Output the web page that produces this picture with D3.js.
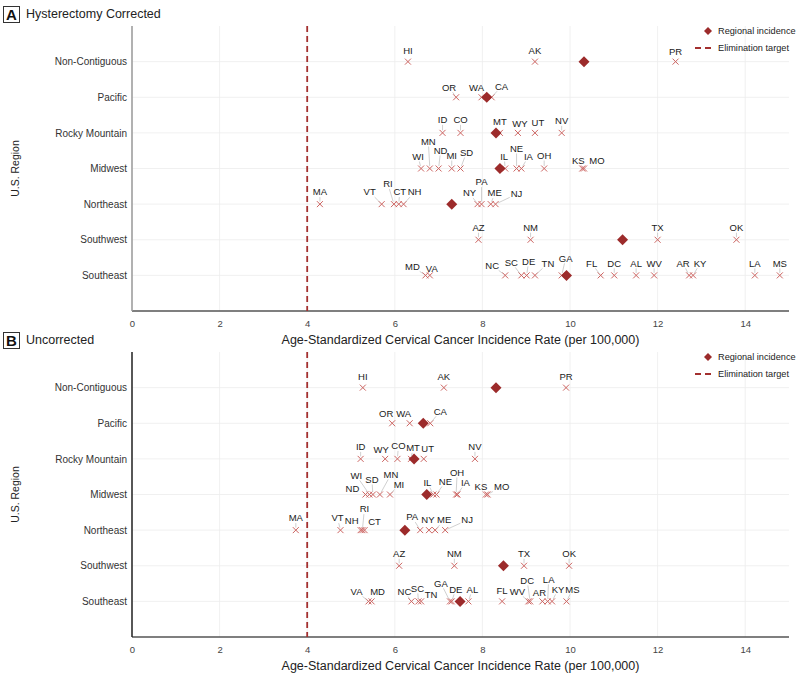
<!DOCTYPE html>
<meta charset="utf-8">
<script src="https://d3js.org/d3.v7.min.js"></script>
<style>
  body { margin: 0; background: #fff; }
  text { font-family: "Liberation Sans", Arial, sans-serif; }
</style>
<body>
<div id="chart"></div>
<script>
// ---- data ----
const regions = ["Non-Contiguous", "Pacific", "Rocky Mountain", "Midwest", "Northeast", "Southwest", "Southeast"];
const xTicks = [0, 2, 4, 6, 8, 10, 12, 14];
const eliminationTarget = 4;

const correctedStates = [
  {state: "HI", region: "Non-Contiguous", rate: 6.30}, {state: "AK", region: "Non-Contiguous", rate: 9.20},
  {state: "PR", region: "Non-Contiguous", rate: 12.41},
  {state: "OR", region: "Pacific", rate: 7.40}, {state: "WA", region: "Pacific", rate: 7.98},
  {state: "CA", region: "Pacific", rate: 8.21},
  {state: "ID", region: "Rocky Mountain", rate: 7.09}, {state: "CO", region: "Rocky Mountain", rate: 7.50},
  {state: "MT", region: "Rocky Mountain", rate: 8.40}, {state: "WY", region: "Rocky Mountain", rate: 8.81},
  {state: "UT", region: "Rocky Mountain", rate: 9.20}, {state: "NV", region: "Rocky Mountain", rate: 9.81},
  {state: "WI", region: "Midwest", rate: 6.60}, {state: "MN", region: "Midwest", rate: 6.80},
  {state: "ND", region: "Midwest", rate: 7.00}, {state: "MI", region: "Midwest", rate: 7.30},
  {state: "SD", region: "Midwest", rate: 7.50}, {state: "IL", region: "Midwest", rate: 8.52},
  {state: "NE", region: "Midwest", rate: 8.78}, {state: "IA", region: "Midwest", rate: 8.89},
  {state: "OH", region: "Midwest", rate: 9.41}, {state: "KS", region: "Midwest", rate: 10.28},
  {state: "MO", region: "Midwest", rate: 10.32},
  {state: "MA", region: "Northeast", rate: 4.29}, {state: "VT", region: "Northeast", rate: 5.70},
  {state: "RI", region: "Northeast", rate: 5.98}, {state: "CT", region: "Northeast", rate: 6.09},
  {state: "NH", region: "Northeast", rate: 6.20}, {state: "NY", region: "Northeast", rate: 7.89},
  {state: "PA", region: "Northeast", rate: 7.98}, {state: "ME", region: "Northeast", rate: 8.19},
  {state: "NJ", region: "Northeast", rate: 8.30},
  {state: "AZ", region: "Southwest", rate: 7.91}, {state: "NM", region: "Southwest", rate: 9.10},
  {state: "TX", region: "Southwest", rate: 12.00}, {state: "OK", region: "Southwest", rate: 13.80},
  {state: "MD", region: "Southeast", rate: 6.70}, {state: "VA", region: "Southeast", rate: 6.80},
  {state: "NC", region: "Southeast", rate: 8.52}, {state: "SC", region: "Southeast", rate: 8.89},
  {state: "DE", region: "Southeast", rate: 9.01}, {state: "TN", region: "Southeast", rate: 9.20},
  {state: "GA", region: "Southeast", rate: 9.81}, {state: "FL", region: "Southeast", rate: 10.70},
  {state: "DC", region: "Southeast", rate: 11.01}, {state: "AL", region: "Southeast", rate: 11.51},
  {state: "WV", region: "Southeast", rate: 11.92}, {state: "AR", region: "Southeast", rate: 12.72},
  {state: "KY", region: "Southeast", rate: 12.81}, {state: "LA", region: "Southeast", rate: 14.22},
  {state: "MS", region: "Southeast", rate: 14.79}
];
const correctedRegional = [10.32, 8.10, 8.31, 8.40, 7.30, 11.20, 9.92];

const uncorrectedStates = [
  {state: "HI", region: "Non-Contiguous", rate: 5.27}, {state: "AK", region: "Non-Contiguous", rate: 7.12},
  {state: "PR", region: "Non-Contiguous", rate: 9.91},
  {state: "OR", region: "Pacific", rate: 5.94}, {state: "WA", region: "Pacific", rate: 6.34},
  {state: "CA", region: "Pacific", rate: 6.81},
  {state: "ID", region: "Rocky Mountain", rate: 5.22}, {state: "WY", region: "Rocky Mountain", rate: 5.78},
  {state: "CO", region: "Rocky Mountain", rate: 6.06}, {state: "MT", region: "Rocky Mountain", rate: 6.37},
  {state: "UT", region: "Rocky Mountain", rate: 6.66}, {state: "NV", region: "Rocky Mountain", rate: 7.83},
  {state: "ND", region: "Midwest", rate: 5.33}, {state: "WI", region: "Midwest", rate: 5.42},
  {state: "SD", region: "Midwest", rate: 5.50}, {state: "MN", region: "Midwest", rate: 5.66},
  {state: "MI", region: "Midwest", rate: 5.89}, {state: "IL", region: "Midwest", rate: 6.88},
  {state: "NE", region: "Midwest", rate: 6.95}, {state: "OH", region: "Midwest", rate: 7.40},
  {state: "IA", region: "Midwest", rate: 7.43}, {state: "KS", region: "Midwest", rate: 8.08},
  {state: "MO", region: "Midwest", rate: 8.12},
  {state: "MA", region: "Northeast", rate: 3.74}, {state: "VT", region: "Northeast", rate: 4.76},
  {state: "NH", region: "Northeast", rate: 5.22}, {state: "RI", region: "Northeast", rate: 5.26},
  {state: "CT", region: "Northeast", rate: 5.31}, {state: "PA", region: "Northeast", rate: 6.58},
  {state: "NY", region: "Northeast", rate: 6.78}, {state: "ME", region: "Northeast", rate: 6.92},
  {state: "NJ", region: "Northeast", rate: 7.15},
  {state: "AZ", region: "Southwest", rate: 6.10}, {state: "NM", region: "Southwest", rate: 7.36},
  {state: "TX", region: "Southwest", rate: 8.95}, {state: "OK", region: "Southwest", rate: 9.98},
  {state: "VA", region: "Southeast", rate: 5.40}, {state: "MD", region: "Southeast", rate: 5.47},
  {state: "NC", region: "Southeast", rate: 6.38}, {state: "SC", region: "Southeast", rate: 6.54},
  {state: "TN", region: "Southeast", rate: 6.60}, {state: "GA", region: "Southeast", rate: 7.26},
  {state: "DE", region: "Southeast", rate: 7.30}, {state: "AL", region: "Southeast", rate: 7.68},
  {state: "FL", region: "Southeast", rate: 8.45}, {state: "WV", region: "Southeast", rate: 9.05},
  {state: "DC", region: "Southeast", rate: 9.09}, {state: "AR", region: "Southeast", rate: 9.37},
  {state: "LA", region: "Southeast", rate: 9.49}, {state: "KY", region: "Southeast", rate: 9.59},
  {state: "MS", region: "Southeast", rate: 9.92}
];
const uncorrectedRegional = [8.31, 6.65, 6.44, 6.73, 6.23, 8.48, 7.49];

// label nudges (px from the point), anything not listed sits just above
const nudgeA = {
  PR: [0, -10], OR: [-7, -10], WA: [-5, -10], CA: [10, -11],
  ID: [0, -13], CO: [0, -13], WY: [2, -9], UT: [3, -10], NV: [0, -12],
  WI: [-3, -12], MN: [-1.5, -27], ND: [2, -18], MI: [0, -13], SD: [6, -16], IL: [-1, -12],
  NE: [0, -20], IA: [7, -12], OH: [0, -13], KS: [-4, -8], MO: [13, -8],
  MA: [0, -12], VT: [-12, -12], RI: [-6, -20], CT: [1, -12], NH: [11, -12],
  NY: [-8, -11], PA: [0, -22], ME: [4, -11], NJ: [21, -10],
  AZ: [0, -12], NM: [0, -12], TX: [0, -12], OK: [0, -12],
  MD: [-13, -9], VA: [2, -7], NC: [-13, -10], SC: [-10, -13], DE: [2, -14], TN: [13, -12],
  GA: [4, -17], FL: [-9, -12], DC: [0, -12], AL: [0, -12], WV: [0, -12], AR: [-6, -12],
  KY: [7, -12], LA: [0, -12], MS: [0, -12]
};
const nudgeB = {
  OR: [-6, -10], WA: [-6, -10], CA: [10, -12],
  ID: [0, -12], WY: [-4, -9], CO: [1, -13], MT: [2, -11], UT: [4, -10], NV: [0, -12],
  WI: [-13, -19], ND: [-13, -6], SD: [-1, -15], MN: [11, -20], MI: [9, -10], IL: [-6, -12],
  NE: [9, -13], OH: [1, -22], IA: [8, -12], KS: [-5, -8], MO: [14, -8],
  MA: [0, -12], VT: [-3, -12], NH: [-9, -9], RI: [2, -21], CT: [10, -8],
  PA: [-8, -13], NY: [-1, -10], ME: [9, -10], NJ: [22, -10],
  AZ: [0, -12], NM: [0, -12], TX: [0, -12], OK: [0, -12],
  VA: [-12, -10], MD: [6, -10], NC: [-7, -10], SC: [-1, -13], TN: [10, -7], GA: [-9, -18],
  DE: [4, -12], AL: [4, -12], FL: [0, -11], WV: [-11, -10], DC: [-3, -21], AR: [-3, -9],
  LA: [1, -22], KY: [6, -12], MS: [6, -12]
};

// ---- drawing ----
const W = 800, H = 677;
const xColor = "#cc6461", diamondColor = "#9c2b2b", targetColor = "#a3302f";

const svg = d3.select("#chart").append("svg")
  .attr("width", W).attr("height", H);

const x = d3.scaleLinear().domain([0, 15]).range([132, 789]);

function drawPanel(top, bottom, letter, title, states, regional, nudge, leftAxisColor) {
  const g = svg.append("g");
  const y = d3.scalePoint().domain(regions).range([top, bottom]).padding(1);

  // grid
  g.append("g").selectAll("line").data(xTicks).join("line")
    .attr("x1", d => x(d)).attr("x2", d => x(d))
    .attr("y1", top).attr("y2", bottom)
    .attr("stroke", "#ececec").attr("stroke-width", 0.8);
  g.append("g").selectAll("line").data(regions).join("line")
    .attr("x1", x.range()[0]).attr("x2", x.range()[1])
    .attr("y1", d => y(d)).attr("y2", d => y(d))
    .attr("stroke", "#ececec").attr("stroke-width", 0.8);

  // axes
  const xAxis = g.append("g")
    .attr("transform", "translate(0," + bottom + ")")
    .call(d3.axisBottom(x).tickValues(xTicks).tickSize(0).tickPadding(9));
  xAxis.select(".domain").remove();
  xAxis.selectAll("text").attr("fill", "#444").style("font-size", "9.5px")
    .style("font-family", "'Liberation Sans Narrow', 'Liberation Sans', Arial, sans-serif");
  g.append("line")
    .attr("x1", x.range()[0]).attr("x2", x.range()[1])
    .attr("y1", bottom).attr("y2", bottom)
    .attr("stroke", "#555").attr("stroke-width", 1.5);

  const yAxis = g.append("g")
    .attr("transform", "translate(" + x.range()[0] + ",0)")
    .call(d3.axisLeft(y).tickSize(0).tickPadding(5));
  yAxis.select(".domain").remove();
  yAxis.selectAll("text").attr("fill", "#333").style("font-size", "10px");
  g.append("line")
    .attr("x1", x.range()[0]).attr("x2", x.range()[0])
    .attr("y1", top).attr("y2", bottom)
    .attr("stroke", leftAxisColor).attr("stroke-width", 1.5);

  // axis titles
  g.append("text")
    .attr("x", (x.range()[0] + x.range()[1]) / 2).attr("y", bottom + 33)
    .attr("text-anchor", "middle").attr("fill", "#222")
    .style("font-size", "12.5px")
    .text("Age-Standardized Cervical Cancer Incidence Rate (per 100,000)");
  g.append("text")
    .attr("transform", "translate(19," + ((top + bottom) / 2) + ") rotate(-90)")
    .attr("text-anchor", "middle").attr("fill", "#222")
    .style("font-size", "10.5px")
    .text("U.S. Region");

  // panel letter and title
  g.append("rect").attr("x", 3.5).attr("y", top - 19.5).attr("width", 16).attr("height", 16)
    .attr("fill", "#fff").attr("stroke", "#333").attr("stroke-width", 1);
  g.append("text").attr("x", 11.5).attr("y", top - 6)
    .attr("text-anchor", "middle").attr("fill", "#111")
    .style("font-size", "15px").style("font-weight", "bold").text(letter);
  g.append("text").attr("x", 26).attr("y", top - 8.5)
    .attr("fill", "#222").style("font-size", "12.5px").text(title);

  // elimination target
  g.append("line")
    .attr("x1", x(eliminationTarget)).attr("x2", x(eliminationTarget))
    .attr("y1", top).attr("y2", bottom)
    .attr("stroke", targetColor).attr("stroke-width", 1.8)
    .attr("stroke-dasharray", "6,4");

  // state markers
  const cross = "M-3,-3L3,3M-3,3L3,-3";
  g.append("g").selectAll("path").data(states).join("path")
    .attr("transform", d => "translate(" + x(d.rate) + "," + y(d.region) + ")")
    .attr("d", cross).attr("stroke", xColor).attr("stroke-width", 1).attr("fill", "none");

  // regional diamonds
  const diamond = "M0,-5.5L5.5,0L0,5.5L-5.5,0Z";
  g.append("g").selectAll("path").data(regions).join("path")
    .attr("transform", (d, i) => "translate(" + x(regional[i]) + "," + y(d) + ")")
    .attr("d", diamond).attr("fill", diamondColor);

  // labels with leader lines
  const segG = g.append("g");
  const labG = g.append("g");
  states.forEach(d => {
    const px = x(d.rate), py = y(d.region);
    const off = nudge[d.state] || [0, -11];
    const lx = px + off[0], ly = py + off[1];
    const t = labG.append("text")
      .attr("x", lx).attr("y", ly).attr("dy", "0.35em")
      .attr("text-anchor", "middle").attr("fill", "#1a1a1a")
      .style("font-size", "9.5px").text(d.state);
    const hw = t.node().getComputedTextLength() / 2 + 1, hh = 5;
    const vx = px - lx, vy = py - ly;
    const s = Math.min(vx ? hw / Math.abs(vx) : Infinity, vy ? hh / Math.abs(vy) : Infinity);
    if (s < 1) {
      const ex = lx + vx * s, ey = ly + vy * s;
      const len = Math.hypot(px - ex, py - ey);
      if (len > 6) {
        segG.append("line")
          .attr("x1", ex).attr("y1", ey)
          .attr("x2", px - (px - ex) / len * 2.5).attr("y2", py - (py - ey) / len * 2.5)
          .attr("stroke", "#c4c4c4").attr("stroke-width", 0.8);
      }
    }
  });

  // legend
  const lg = g.append("g").attr("transform", "translate(0," + (top + 5) + ")");
  lg.append("path").attr("transform", "translate(708,0)")
    .attr("d", "M0,-4L4,0L0,4L-4,0Z").attr("fill", diamondColor);
  lg.append("text").attr("x", 718).attr("y", 0).attr("dy", "0.35em")
    .attr("fill", "#222").style("font-size", "9.2px").text("Regional incidence");
  lg.append("line").attr("x1", 695).attr("x2", 714).attr("y1", 17).attr("y2", 17)
    .attr("stroke", targetColor).attr("stroke-width", 1.8).attr("stroke-dasharray", "6,4");
  lg.append("text").attr("x", 718).attr("y", 17).attr("dy", "0.35em")
    .attr("fill", "#222").style("font-size", "9.2px").text("Elimination target");
}

drawPanel(26, 311, "A", "Hysterectomy Corrected", correctedStates, correctedRegional, nudgeA, "#9a9a9a");
drawPanel(352, 637, "B", "Uncorrected", uncorrectedStates, uncorrectedRegional, nudgeB, "#222");
</script>
</body>
